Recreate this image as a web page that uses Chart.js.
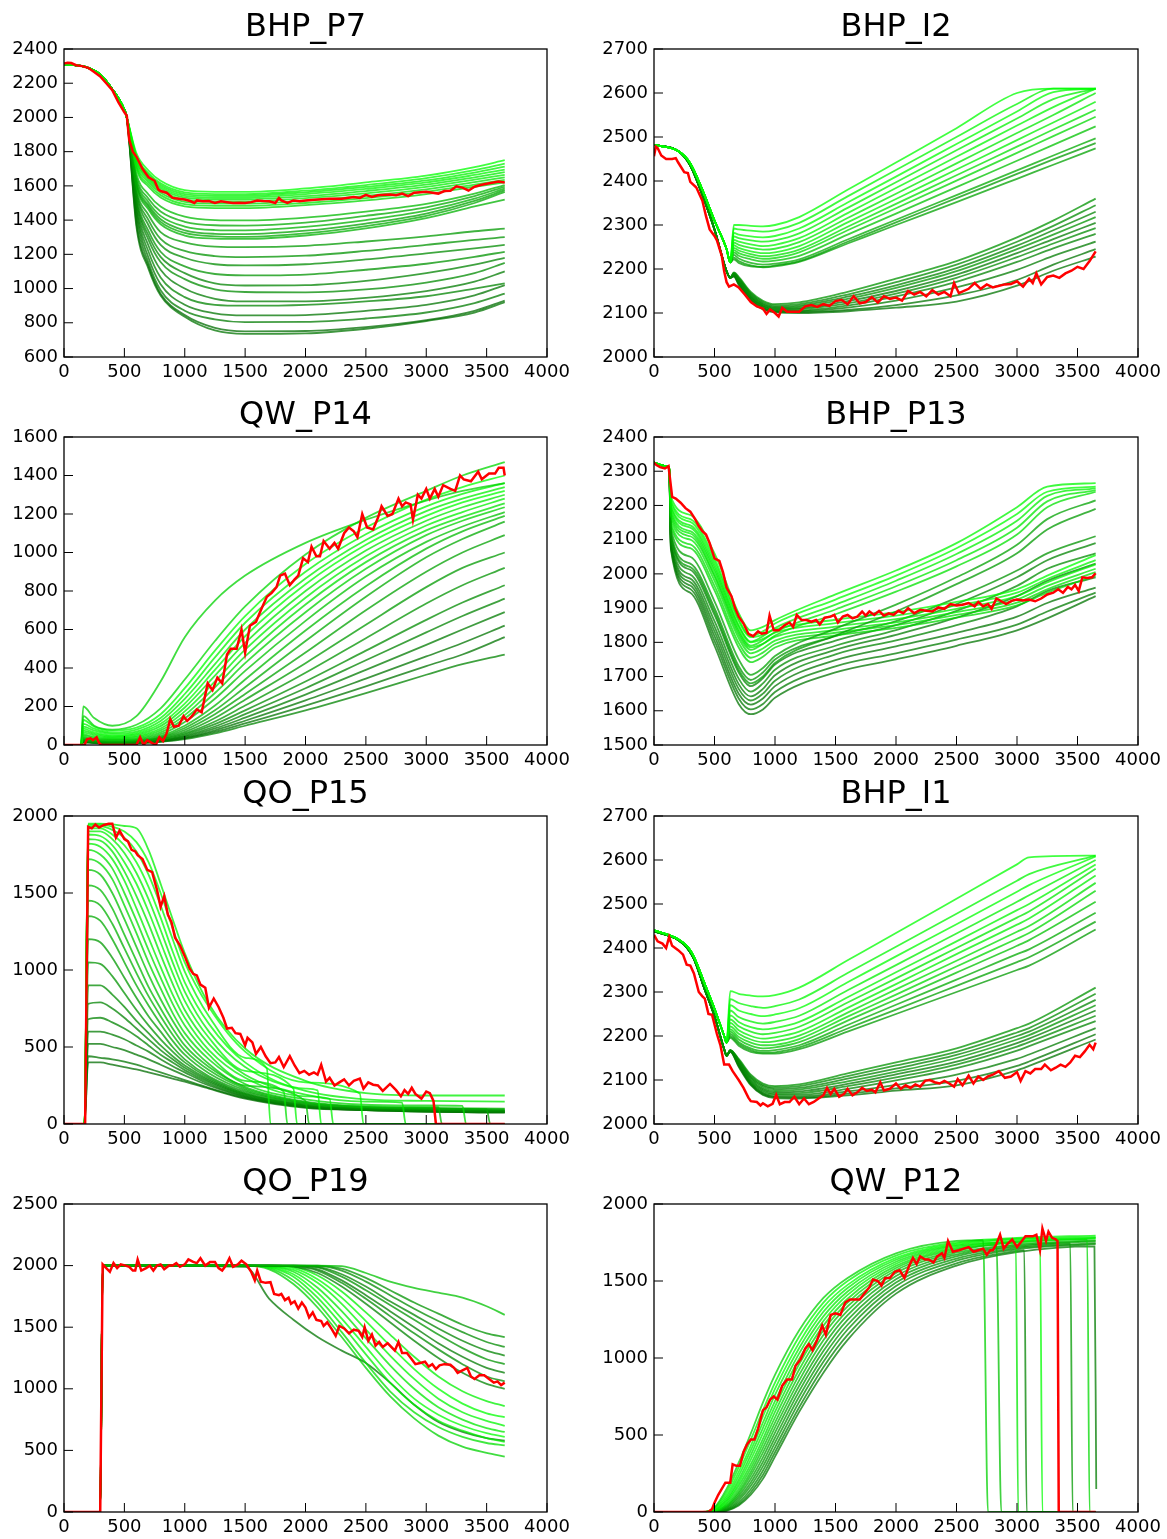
<!DOCTYPE html>
<html>
<head>
<meta charset="utf-8">
<title>Ensemble runs vs observed</title>
<script src="https://cdn.jsdelivr.net/npm/chart.js@4.4.1/dist/chart.umd.min.js"></script>
<style>
  html, body { margin: 0; padding: 0; background: #fff; }
  body { position: relative; width: 1167px; height: 1539px; overflow: hidden; }
  canvas { position: absolute; }
</style>
</head>
<body>
<script>
// ---------- BHP_P7 ----------
const p7Days = [0,100,200,300,400,500,520,600,700,800,1000,1250,1500,2000,2500,3000,3400,3650];
const p7Runs = [
  [2310,2305,2290,2250,2165,2045,2000,1790,1690,1630,1575,1565,1565,1585,1620,1660,1710,1750],
  [2310,2305,2290,2250,2165,2045,2000,1775,1675,1615,1562,1552,1552,1572,1605,1645,1692,1730],
  [2310,2305,2290,2250,2165,2045,2000,1765,1665,1605,1552,1542,1542,1562,1594,1632,1678,1712],
  [2310,2305,2290,2250,2165,2045,2000,1755,1655,1595,1542,1532,1532,1552,1582,1620,1664,1695],
  [2310,2305,2290,2250,2165,2045,2000,1745,1645,1585,1532,1522,1522,1540,1570,1607,1650,1680],
  [2310,2305,2290,2250,2165,2045,2000,1735,1635,1573,1520,1510,1510,1528,1556,1594,1636,1665],
  [2310,2305,2290,2250,2165,2045,2000,1722,1622,1560,1507,1497,1497,1514,1542,1580,1622,1650],
  [2310,2305,2290,2250,2165,2045,2000,1710,1608,1546,1493,1483,1483,1500,1528,1566,1608,1635],
  [2310,2305,2290,2250,2165,2045,2000,1698,1595,1532,1480,1470,1470,1487,1515,1552,1595,1620],
  [2310,2305,2290,2250,2165,2045,2000,1670,1550,1480,1420,1400,1398,1415,1450,1495,1555,1605],
  [2310,2305,2290,2250,2165,2045,2000,1650,1525,1450,1390,1370,1368,1385,1425,1475,1540,1595],
  [2310,2305,2290,2250,2165,2045,2000,1635,1505,1425,1362,1342,1340,1360,1400,1455,1525,1585],
  [2310,2305,2290,2250,2165,2045,2000,1620,1488,1405,1340,1320,1318,1338,1380,1438,1512,1575],
  [2310,2305,2290,2250,2165,2045,2000,1610,1475,1390,1325,1305,1302,1322,1365,1425,1500,1565],
  [2310,2305,2290,2250,2165,2045,2000,1600,1462,1376,1310,1292,1290,1310,1352,1412,1480,1520],
  [2310,2305,2290,2250,2165,2045,2000,1580,1430,1330,1270,1245,1242,1250,1275,1305,1335,1350],
  [2310,2305,2290,2250,2165,2045,2000,1565,1400,1290,1220,1190,1184,1192,1220,1255,1285,1300],
  [2310,2305,2290,2250,2165,2045,2000,1550,1370,1255,1180,1142,1135,1142,1170,1205,1235,1255],
  [2310,2305,2290,2250,2165,2045,2000,1530,1335,1215,1130,1085,1077,1082,1110,1145,1185,1215],
  [2310,2305,2290,2250,2165,2045,2000,1515,1310,1185,1090,1030,1018,1020,1045,1090,1140,1180],
  [2310,2305,2290,2250,2165,2045,2000,1500,1285,1155,1055,995,980,978,995,1035,1090,1150],
  [2310,2305,2290,2250,2165,2045,2000,1480,1250,1110,1000,940,925,925,945,985,1040,1100],
  [2310,2305,2290,2250,2165,2045,2000,1460,1215,1065,950,905,900,905,925,955,1000,1030],
  [2310,2305,2290,2250,2165,2045,2000,1440,1180,1025,905,855,843,845,870,905,960,1020],
  [2310,2305,2290,2250,2165,2045,2000,1410,1150,990,870,820,804,805,825,860,915,970],
  [2310,2305,2290,2250,2165,2045,2000,1380,1130,970,845,770,750,752,775,815,870,930],
  [2310,2305,2290,2250,2165,2045,2000,1360,1115,960,835,755,735,738,765,810,860,920]
];
const p7Tones = [1,0.95,0.9,0.95,0.85,0.9,0.8,0.85,0.75,0.55,0.45,0.5,0.4,0.45,0.5,0.35,0.3,0.25,0.3,0.2,0.25,0.15,0.2,0.1,0.15,0.05,0.1];
const p7Obs = [[0,2315],[30,2320],[60,2318],[100,2305],[150,2300],[200,2290],[250,2265],[300,2240],[350,2200],[400,2160],[450,2090],[500,2030],[520,2010],[540,1870],[570,1800],[600,1770],[650,1700],[700,1650],[750,1630],[780,1580],[800,1570],[850,1560],[900,1530],[950,1525],[1000,1520],[1050,1510],[1080,1500],[1100,1515],[1150,1510],[1200,1512],[1250,1500],[1300,1510],[1350,1505],[1400,1500],[1450,1502],[1500,1500],[1550,1505],[1600,1515],[1650,1512],[1700,1510],[1750,1500],[1780,1530],[1800,1515],[1850,1500],[1900,1515],[1950,1510],[2000,1515],[2100,1520],[2200,1525],[2300,1525],[2400,1535],[2450,1530],[2500,1548],[2550,1535],[2600,1545],[2700,1550],[2750,1545],[2800,1555],[2850,1540],[2900,1560],[3000,1565],[3050,1560],[3100,1555],[3150,1570],[3200,1572],[3250,1598],[3300,1590],[3350,1572],[3400,1595],[3450,1605],[3500,1612],[3600,1625],[3650,1620]];

// ---------- BHP_I2 ----------
const i2Days = [0,200,300,400,500,600,630,660,700,800,900,1000,1200,1600,2000,2500,3000,3300,3650];
const i2Runs = [
  [2482,2468,2440,2380,2310,2245,2215,2300,2300,2298,2297,2300,2318,2380,2442,2520,2600,2610,2610],
  [2482,2468,2440,2380,2310,2245,2215,2292,2290,2287,2285,2288,2305,2365,2425,2500,2575,2610,2610],
  [2482,2468,2440,2380,2310,2245,2215,2282,2278,2274,2272,2275,2292,2351,2410,2484,2558,2602,2610],
  [2482,2468,2440,2380,2310,2245,2215,2274,2270,2265,2262,2265,2281,2339,2397,2470,2542,2586,2610],
  [2482,2468,2440,2380,2310,2245,2215,2266,2262,2256,2252,2255,2270,2327,2384,2455,2526,2568,2610],
  [2482,2468,2440,2380,2310,2245,2215,2260,2255,2248,2244,2246,2261,2316,2371,2440,2509,2550,2600],
  [2482,2468,2440,2380,2310,2245,2215,2254,2248,2240,2236,2238,2252,2306,2359,2426,2493,2533,2580],
  [2482,2468,2440,2380,2310,2245,2215,2248,2242,2234,2229,2231,2244,2296,2348,2413,2478,2517,2562],
  [2482,2468,2440,2380,2310,2245,2215,2243,2236,2228,2223,2225,2238,2288,2338,2401,2464,2502,2546],
  [2482,2468,2440,2380,2310,2245,2215,2238,2230,2222,2217,2219,2230,2278,2326,2386,2446,2482,2524],
  [2482,2468,2440,2380,2310,2245,2215,2232,2224,2214,2210,2212,2222,2267,2312,2368,2424,2458,2497],
  [2482,2468,2440,2380,2310,2245,2215,2226,2218,2208,2204,2206,2216,2258,2300,2352,2405,2437,2474],
  [2482,2468,2440,2380,2310,2245,2215,2222,2214,2206,2205,2208,2218,2262,2306,2361,2416,2449,2486],
  [2482,2468,2435,2368,2290,2195,2180,2192,2182,2148,2128,2120,2124,2148,2178,2218,2272,2310,2360],
  [2482,2468,2435,2368,2290,2195,2180,2191,2180,2145,2125,2117,2120,2142,2170,2210,2262,2298,2345],
  [2482,2468,2435,2368,2290,2195,2180,2190,2178,2143,2122,2114,2117,2137,2163,2202,2253,2288,2330],
  [2482,2468,2435,2368,2290,2195,2180,2189,2176,2140,2120,2112,2114,2132,2157,2195,2245,2278,2318],
  [2482,2468,2435,2368,2290,2195,2180,2188,2174,2138,2118,2110,2111,2127,2150,2187,2236,2268,2305],
  [2482,2468,2435,2368,2290,2195,2180,2187,2172,2136,2116,2108,2109,2122,2144,2180,2227,2258,2293],
  [2482,2468,2435,2368,2290,2195,2180,2186,2170,2134,2114,2106,2106,2117,2138,2171,2216,2247,2280],
  [2482,2468,2435,2368,2290,2195,2180,2185,2168,2132,2112,2104,2104,2112,2128,2158,2198,2230,2262],
  [2482,2468,2435,2368,2290,2195,2180,2184,2166,2130,2110,2103,2102,2107,2118,2140,2175,2210,2245],
  [2482,2468,2435,2368,2290,2195,2180,2183,2164,2128,2108,2102,2100,2104,2112,2126,2162,2196,2228]
];
const i2Tones = [1,0.95,1,0.9,0.95,0.85,0.9,0.8,0.75,0.6,0.45,0.4,0.35,0.3,0.25,0.2,0.3,0.15,0.25,0.2,0.15,0.1,0.1];
const i2Obs = [[0,2456],[15,2478],[30,2475],[60,2458],[100,2450],[150,2450],[180,2452],[200,2442],[250,2420],[280,2418],[300,2398],[350,2385],[400,2355],[430,2320],[460,2290],[500,2275],[520,2265],[560,2230],[580,2195],[600,2170],[620,2160],[660,2165],[700,2158],[750,2142],[800,2125],[850,2115],[900,2110],[930,2098],[960,2108],[1000,2100],[1030,2092],[1060,2112],[1100,2103],[1200,2103],[1250,2115],[1300,2118],[1350,2114],[1400,2120],[1450,2116],[1500,2127],[1550,2130],[1600,2120],[1650,2138],[1700,2122],[1750,2125],[1800,2136],[1850,2124],[1900,2138],[1950,2132],[2000,2135],[2050,2128],[2100,2150],[2150,2142],[2200,2148],[2250,2138],[2300,2152],[2350,2142],[2400,2148],[2450,2138],[2480,2168],[2520,2145],[2600,2155],[2650,2168],[2700,2155],[2750,2165],[2800,2158],[2900,2165],[2950,2166],[3000,2172],[3050,2160],[3100,2178],[3130,2168],[3160,2190],[3200,2165],[3250,2182],[3300,2185],[3350,2180],[3400,2190],[3450,2196],[3500,2205],[3550,2200],[3600,2218],[3650,2240]];

// ---------- QW_P14 ----------
const p14Days = [0,140,160,250,400,600,800,1000,1250,1500,2000,2500,3000,3300,3650];
const p14Runs = [
  [0,0,200,140,100,150,330,560,750,880,1050,1170,1270,1320,1360],
  [0,0,150,100,80,105,190,340,540,720,990,1180,1320,1400,1470],
  [0,0,130,95,75,90,160,295,490,670,940,1130,1275,1340,1400],
  [0,0,110,85,65,80,140,265,455,635,900,1095,1240,1305,1360],
  [0,0,95,75,58,70,125,240,420,600,865,1065,1215,1280,1340],
  [0,0,85,65,50,62,110,215,390,565,835,1040,1190,1260,1320],
  [0,0,75,58,45,55,98,195,360,530,800,1010,1165,1235,1300],
  [0,0,65,50,40,48,86,175,330,495,765,980,1140,1210,1280],
  [0,0,55,42,35,42,76,155,300,460,730,950,1115,1185,1255],
  [0,0,48,36,30,36,66,138,270,425,690,915,1090,1165,1235],
  [0,0,40,30,26,30,56,120,240,385,645,875,1055,1135,1210],
  [0,0,35,26,22,26,48,100,205,340,595,825,1020,1110,1190],
  [0,0,30,22,18,22,42,88,180,300,540,770,975,1070,1160],
  [0,0,28,20,16,20,38,78,160,265,480,700,900,1000,1090],
  [0,0,26,18,14,18,34,68,140,235,425,625,820,920,1000],
  [0,0,24,16,12,16,30,60,122,205,375,555,735,830,920],
  [0,0,22,15,11,14,27,54,108,180,330,490,650,740,830],
  [0,0,20,14,10,13,24,48,96,160,295,440,585,670,760],
  [0,0,18,13,9,12,22,43,86,142,262,390,520,600,690],
  [0,0,16,12,8,11,20,38,76,126,232,345,460,530,620],
  [0,0,15,11,8,10,18,34,68,112,205,305,410,470,560],
  [0,0,14,10,7,9,16,30,60,100,180,270,365,420,470]
];
const p14Tones = [0.7,0.75,1,0.95,0.9,1,0.85,0.9,0.8,0.7,0.6,0.55,0.45,0.4,0.35,0.3,0.25,0.2,0.15,0.1,0.1,0.2];
const p14Obs = [[0,0],[170,0],[190,30],[220,35],[240,25],[270,40],[290,10],[310,0],[600,0],[630,40],[660,0],[690,25],[730,10],[760,0],[790,40],[820,20],[850,60],[880,135],[910,95],[950,100],[990,150],[1020,125],[1060,150],[1100,185],[1140,170],[1190,320],[1230,285],[1270,350],[1310,320],[1350,470],[1380,500],[1430,500],[1470,600],[1500,480],[1540,620],[1590,640],[1630,700],[1680,770],[1720,790],[1760,820],[1790,880],[1830,890],[1870,830],[1910,860],[1940,880],[1980,970],[2020,950],[2050,1030],[2090,980],[2120,980],[2150,1060],[2200,1020],[2240,1050],[2270,1020],[2320,1100],[2360,1130],[2400,1110],[2430,1080],[2470,1200],[2510,1130],[2560,1120],[2600,1180],[2630,1240],[2680,1190],[2720,1200],[2770,1280],[2800,1240],[2830,1260],[2870,1250],[2890,1170],[2930,1300],[2960,1280],[3000,1330],[3030,1280],[3070,1330],[3100,1290],[3140,1350],[3200,1330],[3240,1320],[3280,1400],[3310,1380],[3370,1370],[3430,1420],[3460,1380],[3520,1410],[3570,1410],[3600,1440],[3640,1440],[3650,1400]];

// ---------- BHP_P13 ----------
const p13Days = [0,100,125,140,300,500,700,800,900,1000,1500,2000,2500,3000,3250,3650];
const p13Runs = [
  [2325,2315,2312,2225,2172,2060,1885,1835,1845,1865,1940,2010,2090,2195,2255,2265],
  [2325,2315,2312,2215,2160,2045,1868,1818,1832,1855,1925,1995,2075,2175,2240,2255],
  [2325,2315,2312,2200,2142,2025,1850,1802,1818,1842,1910,1980,2058,2155,2228,2250],
  [2325,2315,2312,2185,2125,2008,1836,1790,1806,1830,1896,1964,2040,2135,2212,2245],
  [2325,2315,2312,2170,2110,1992,1822,1778,1795,1820,1882,1948,2022,2115,2195,2240],
  [2325,2315,2312,2130,2050,1920,1750,1705,1725,1760,1840,1910,1990,2085,2160,2215],
  [2325,2315,2312,2110,2020,1890,1720,1680,1700,1740,1820,1890,1970,2060,2130,2190],
  [2325,2315,2312,2210,2152,2035,1862,1815,1822,1838,1866,1888,1918,1955,1995,2055],
  [2325,2315,2312,2195,2135,2016,1846,1800,1810,1828,1856,1878,1908,1945,1985,2040],
  [2325,2315,2312,2178,2118,1998,1830,1785,1796,1816,1846,1868,1898,1935,1975,2028],
  [2325,2315,2312,2160,2100,1980,1812,1768,1782,1805,1836,1858,1888,1925,1965,2015],
  [2325,2315,2312,2148,2086,1965,1798,1755,1770,1795,1828,1850,1880,1916,1955,2005],
  [2325,2315,2312,2140,2075,1952,1785,1742,1758,1785,1820,1842,1872,1908,1945,1995],
  [2325,2315,2312,2120,2030,1900,1730,1690,1712,1750,1818,1862,1930,2010,2060,2110],
  [2325,2315,2312,2110,2012,1880,1712,1672,1695,1735,1805,1850,1912,1990,2040,2090],
  [2325,2315,2312,2100,1998,1862,1694,1656,1680,1720,1790,1836,1892,1965,2015,2060],
  [2325,2315,2312,2092,1986,1846,1678,1642,1664,1704,1778,1822,1872,1935,1980,2030],
  [2325,2315,2312,2086,1976,1832,1664,1630,1650,1688,1765,1806,1850,1905,1950,1990],
  [2325,2315,2312,2080,1966,1818,1650,1618,1636,1672,1748,1788,1828,1875,1915,1960],
  [2325,2315,2312,2075,1956,1804,1636,1604,1620,1655,1730,1768,1808,1852,1890,1945],
  [2325,2315,2312,2070,1945,1790,1620,1590,1604,1638,1712,1750,1790,1835,1870,1935]
];
const p13Tones = [0.95,1,0.9,0.85,0.8,0.4,0.35,1,0.95,0.9,0.85,0.8,0.75,0.3,0.2,0.25,0.15,0.2,0.1,0.15,0.1];
const p13Obs = [[0,2325],[20,2318],[50,2312],[90,2308],[120,2315],[150,2225],[180,2220],[220,2208],[260,2192],[300,2182],[340,2160],[370,2140],[400,2125],[430,2115],[460,2090],[500,2045],[540,2038],[570,2005],[600,1960],[640,1935],[670,1900],[700,1875],[740,1855],[780,1825],[820,1818],[860,1832],[890,1825],[930,1828],[955,1878],[990,1835],[1030,1835],[1080,1850],[1120,1858],[1150,1845],[1180,1880],[1220,1865],[1260,1865],[1300,1860],[1340,1865],[1370,1852],[1410,1872],[1460,1875],[1490,1880],[1520,1858],[1560,1875],[1600,1880],[1640,1870],[1680,1875],[1720,1890],[1750,1878],[1780,1890],[1820,1880],[1860,1892],[1900,1878],[1940,1885],[1980,1880],[2020,1892],[2060,1885],[2100,1900],[2150,1885],[2200,1895],[2250,1892],[2300,1890],[2350,1902],[2400,1898],[2450,1912],[2500,1908],[2550,1910],[2600,1915],[2650,1905],[2680,1918],[2720,1905],[2760,1912],[2790,1898],[2830,1928],[2870,1920],[2910,1912],[2960,1922],[3000,1925],[3050,1922],[3100,1925],[3150,1920],[3200,1928],[3250,1940],[3300,1945],[3340,1955],[3380,1945],[3420,1962],[3450,1955],[3480,1968],[3510,1950],[3540,1990],[3580,1988],[3620,1990],[3650,2002]];

// ---------- QO_P15 ----------
const p15Days = [0,170,200,300,400,500,600,700,800,900,1000,1200,1500,2000,2500,3000,3650];
const p15Runs = [
  [0,0,1950,1950,1945,1935,1920,1780,1560,1330,1110,780,490,280,200,185,185],
  [0,0,1940,1945,1930,1900,1830,1700,1500,1270,1050,760,470,270,190,175,175],
  [0,0,1930,1935,1910,1860,1770,1620,1420,1200,990,700,430,250,180,165,160],
  [0,0,1920,1920,1880,1810,1700,1540,1340,1120,920,650,400,230,170,155,150],
  [0,0,1900,1900,1850,1760,1630,1460,1260,1050,860,600,370,215,160,150,145],
  [0,0,1880,1870,1810,1700,1560,1380,1180,980,800,560,345,200,150,140,135],
  [0,0,1850,1840,1770,1640,1480,1300,1100,910,740,520,320,190,145,135,130],
  [0,0,1820,1800,1720,1580,1400,1210,1020,840,690,480,300,180,140,130,125],
  [0,0,1780,1750,1660,1500,1320,1130,950,780,640,450,280,170,130,125,120],
  [0,0,1720,1690,1590,1420,1240,1050,880,720,590,420,260,160,125,120,115],
  [0,0,1650,1620,1500,1330,1150,970,810,670,550,390,250,150,120,115,110],
  [0,0,1550,1520,1400,1230,1060,890,750,620,510,370,240,145,115,110,105],
  [0,0,1450,1420,1300,1140,980,830,700,580,480,350,230,140,110,105,100],
  [0,0,1350,1320,1200,1050,900,770,650,540,450,330,220,135,110,100,95],
  [0,0,1200,1180,1080,950,820,700,600,500,420,310,210,130,105,100,95],
  [0,0,1050,1040,960,850,740,640,550,470,400,300,200,125,100,95,90],
  [0,0,900,900,840,760,670,590,510,440,380,290,195,120,100,90,85],
  [0,0,780,790,750,690,620,550,480,420,365,280,190,120,95,90,85],
  [0,0,680,690,660,620,570,510,450,400,350,270,185,115,95,85,80],
  [0,0,600,600,580,550,510,470,420,375,335,260,180,115,95,85,80],
  [0,0,520,520,500,480,450,420,385,350,315,250,175,110,90,80,75],
  [0,0,440,430,420,405,385,360,335,310,285,235,170,110,90,80,75],
  [0,0,400,400,385,370,355,335,315,295,275,230,165,105,90,80,75]
];
const p15Tones = [0.9,1,0.95,1,0.9,0.95,0.85,0.9,0.8,0.75,0.6,0.55,0.5,0.45,0.35,0.3,0.25,0.2,0.2,0.15,0.1,0.1,0.05];
// run index, last day, last rate, day at zero, rate after
const p15Stops = [[2,1680,360,1710,0],[8,1820,210,1850,0],[5,1900,230,1930,0],[10,2000,150,2030,0],[3,2100,218,2130,0],[7,2200,164,2230,0],[1,2450,198,2480,0],[6,2800,139,2830,0],[11,3100,110,3130,0],[9,3300,118,3330,0],[13,3500,97,3530,0]];
const p15Obs = [[0,0],[175,0],[200,1930],[230,1920],[260,1945],[290,1925],[330,1942],[370,1950],[400,1950],[430,1860],[460,1905],[500,1850],[530,1835],[560,1780],[590,1770],[610,1745],[650,1720],[690,1650],[730,1635],[770,1520],[800,1410],[830,1480],[860,1360],[890,1310],[920,1210],[960,1160],[1000,1090],[1040,1010],[1070,975],[1100,965],[1130,905],[1170,885],[1200,755],[1240,815],[1280,760],[1320,690],[1350,620],[1390,625],[1420,590],[1460,585],[1500,510],[1520,560],[1560,530],[1590,455],[1630,500],[1670,440],[1710,395],[1750,400],[1780,435],[1820,370],[1870,440],[1910,380],[1950,330],[1990,345],[2030,320],[2070,335],[2100,320],[2130,385],[2170,275],[2200,300],[2240,250],[2280,270],[2320,290],[2360,250],[2400,280],[2450,295],[2480,230],[2520,270],[2560,255],[2600,250],[2640,215],[2700,260],[2750,220],[2790,180],[2820,220],[2850,195],[2880,235],[2910,195],[2960,165],[3000,210],[3030,200],[3060,150],[3080,0],[3650,0]];

// ---------- BHP_I1 ----------
const i1Days = [0,200,280,330,420,500,580,600,630,700,800,900,1000,1200,1600,2000,2500,3000,3100,3650];
const i1Runs = [
  [2440,2420,2402,2380,2318,2262,2200,2185,2302,2296,2292,2290,2293,2310,2372,2434,2512,2590,2606,2610],
  [2440,2420,2402,2380,2318,2262,2200,2185,2284,2275,2268,2264,2268,2283,2343,2403,2478,2553,2568,2610],
  [2440,2420,2402,2380,2318,2262,2200,2185,2270,2258,2250,2245,2249,2263,2322,2381,2454,2528,2543,2608],
  [2440,2420,2402,2380,2318,2262,2200,2185,2258,2243,2233,2228,2232,2246,2304,2361,2433,2505,2520,2600],
  [2440,2420,2402,2380,2318,2262,2200,2185,2247,2232,2220,2215,2218,2232,2288,2345,2415,2486,2500,2590],
  [2440,2420,2402,2380,2318,2262,2200,2185,2238,2222,2210,2204,2207,2221,2276,2331,2400,2469,2483,2580],
  [2440,2420,2402,2380,2318,2262,2200,2185,2230,2213,2200,2194,2197,2210,2264,2318,2386,2453,2467,2565],
  [2440,2420,2402,2380,2318,2262,2200,2185,2222,2205,2192,2186,2188,2201,2253,2306,2371,2437,2450,2548],
  [2440,2420,2402,2380,2318,2262,2200,2185,2215,2198,2185,2179,2180,2193,2244,2294,2358,2421,2434,2530],
  [2440,2420,2402,2380,2318,2262,2200,2185,2210,2192,2178,2172,2174,2186,2235,2283,2344,2405,2418,2505],
  [2440,2420,2402,2380,2318,2262,2200,2185,2205,2186,2172,2166,2168,2179,2225,2271,2328,2386,2397,2480],
  [2440,2420,2402,2380,2318,2262,2200,2185,2200,2182,2168,2162,2163,2174,2217,2260,2314,2368,2379,2460],
  [2440,2420,2402,2380,2318,2262,2200,2185,2196,2178,2164,2160,2160,2170,2210,2250,2300,2350,2360,2442],
  [2438,2418,2398,2375,2305,2245,2170,2155,2168,2148,2112,2092,2086,2090,2115,2140,2172,2218,2228,2310],
  [2438,2418,2398,2375,2305,2245,2170,2155,2168,2146,2109,2089,2083,2086,2109,2133,2164,2208,2218,2296],
  [2438,2418,2398,2375,2305,2245,2170,2155,2168,2144,2106,2086,2079,2082,2103,2126,2157,2200,2210,2282],
  [2438,2418,2398,2375,2305,2245,2170,2155,2167,2142,2103,2082,2075,2078,2097,2119,2150,2192,2202,2270],
  [2438,2418,2398,2375,2305,2245,2170,2155,2167,2140,2100,2079,2072,2074,2091,2113,2142,2184,2194,2258],
  [2438,2418,2398,2375,2305,2245,2170,2155,2166,2138,2097,2076,2069,2070,2086,2106,2135,2176,2186,2246],
  [2438,2418,2398,2375,2305,2245,2170,2155,2166,2136,2094,2073,2066,2066,2080,2099,2127,2167,2177,2234],
  [2438,2418,2398,2375,2305,2245,2170,2155,2165,2134,2092,2070,2063,2063,2074,2089,2112,2148,2158,2218],
  [2438,2418,2398,2375,2305,2245,2170,2155,2165,2132,2090,2068,2061,2060,2069,2081,2098,2132,2142,2204],
  [2438,2418,2398,2375,2305,2245,2170,2155,2164,2130,2088,2066,2059,2058,2065,2076,2088,2122,2132,2192]
];
const i1Tones = [1,0.95,1,0.9,0.95,0.85,0.9,0.8,0.75,0.6,0.45,0.4,0.35,0.3,0.25,0.2,0.3,0.15,0.25,0.2,0.15,0.1,0.1];
const i1Obs = [[0,2430],[30,2415],[70,2410],[100,2400],[125,2425],[150,2405],[200,2395],[240,2385],[270,2362],[300,2360],[330,2342],[370,2300],[400,2290],[420,2285],[450,2250],[480,2248],[520,2205],[550,2178],[580,2135],[620,2135],[650,2120],[700,2100],[740,2082],[780,2060],[800,2052],[850,2050],[880,2042],[900,2047],[940,2040],[980,2046],[1010,2066],[1040,2045],[1080,2050],[1120,2050],[1160,2062],[1200,2045],[1240,2058],[1280,2045],[1320,2050],[1360,2058],[1400,2065],[1430,2082],[1460,2068],[1490,2080],[1530,2062],[1570,2068],[1600,2080],[1640,2065],[1680,2072],[1720,2082],[1760,2075],[1800,2078],[1830,2072],[1870,2095],[1900,2076],[1950,2080],[2000,2092],[2040,2080],[2080,2088],[2120,2082],[2160,2090],[2200,2085],[2240,2098],[2280,2100],[2320,2095],[2360,2092],[2400,2098],[2440,2092],[2480,2085],[2510,2102],[2550,2088],[2600,2110],[2640,2092],[2680,2108],[2720,2100],[2760,2108],[2800,2112],[2850,2120],[2900,2105],[2950,2108],[3000,2118],[3030,2098],[3070,2120],[3110,2115],[3150,2125],[3200,2125],[3230,2135],[3280,2122],[3320,2128],[3360,2135],[3400,2130],[3440,2140],[3480,2155],[3520,2152],[3560,2165],[3600,2180],[3630,2170],[3650,2185]];

// ---------- QO_P19 ----------
const p19Days = [0,300,320,1500,1700,1900,2100,2300,2500,2700,2900,3100,3300,3500,3650];
const p19Runs = [
  [0,0,2000,2000,2000,2000,2000,1995,1940,1870,1820,1780,1740,1670,1600],
  [0,0,2000,2000,2000,2000,2000,1975,1900,1800,1700,1610,1520,1450,1420],
  [0,0,2000,2000,2000,2000,1998,1960,1870,1760,1650,1550,1460,1380,1340],
  [0,0,2000,2000,2000,2000,1990,1930,1830,1710,1600,1490,1390,1310,1270],
  [0,0,2000,2000,2000,2000,1985,1910,1800,1680,1560,1440,1330,1240,1200],
  [0,0,2000,2000,2000,1998,1970,1880,1760,1630,1500,1370,1260,1170,1130],
  [0,0,2000,2000,2000,1995,1960,1860,1730,1590,1450,1320,1200,1100,1060],
  [0,0,2000,2000,2000,1992,1940,1830,1690,1540,1390,1250,1130,1040,1000],
  [0,0,2000,2000,2000,1990,1920,1790,1620,1440,1260,1100,980,900,860],
  [0,0,2000,2000,1998,1980,1890,1740,1550,1350,1160,1000,880,800,770],
  [0,0,2000,2000,1996,1965,1860,1690,1480,1270,1080,920,810,740,700],
  [0,0,2000,2000,1994,1950,1820,1630,1410,1190,1000,850,750,680,650],
  [0,0,2000,2000,1990,1930,1780,1570,1340,1110,920,790,700,640,610],
  [0,0,2000,2000,1985,1910,1740,1520,1280,1050,870,740,660,600,570],
  [0,0,2000,2000,1980,1880,1700,1460,1210,980,810,690,610,560,540],
  [0,0,2000,2000,1970,1850,1660,1420,1170,940,760,620,530,480,450],
  [0,0,2000,1990,1730,1560,1420,1310,1210,1050,870,730,650,600,580]
];
const p19Tones = [0.6,0.3,0.25,0.2,0.3,0.15,0.25,0.2,0.9,1,0.95,0.85,1,0.9,0.8,0.7,0.1];
const p19Obs = [[0,0],[300,0],[320,2010],[350,1980],[380,1950],[410,2020],[440,1980],[470,2010],[510,2000],[540,1990],[570,1960],[590,1960],[610,2050],[640,1960],[680,1980],[710,2000],[740,1960],[770,2000],[800,2010],[830,1970],[870,2000],[900,2000],[930,2020],[960,1990],[1000,2010],[1030,2050],[1070,2030],[1100,2020],[1130,2060],[1170,2000],[1210,2030],[1250,2030],[1280,1980],[1310,1960],[1340,2000],[1370,2060],[1400,1990],[1440,2010],[1470,2040],[1510,2010],[1550,1950],[1580,1880],[1600,1960],[1630,1870],[1670,1860],[1710,1865],[1740,1770],[1780,1760],[1800,1770],[1830,1720],[1860,1740],[1880,1690],[1910,1710],[1940,1650],[1970,1700],[2000,1660],[2030,1580],[2060,1620],[2090,1560],[2130,1550],[2150,1510],[2180,1540],[2220,1480],[2250,1430],[2280,1510],[2320,1490],[2360,1450],[2400,1480],[2440,1470],[2470,1420],[2490,1500],[2520,1390],[2550,1440],[2580,1350],[2610,1380],[2640,1340],[2680,1370],[2710,1340],[2740,1310],[2770,1380],[2800,1290],[2840,1290],[2880,1240],[2910,1200],[2950,1210],[2990,1220],[3020,1180],[3050,1200],[3080,1160],[3110,1190],[3150,1200],[3200,1195],[3230,1170],[3260,1130],[3300,1150],[3340,1170],[3370,1100],[3400,1080],[3440,1110],[3480,1110],[3520,1080],[3560,1050],[3590,1060],[3620,1030],[3650,1050]];

// ---------- QW_P12 ----------
const p12Days = [0,400,500,600,700,800,900,1000,1200,1400,1600,2000,2500,3000,3650];
const p12Runs = [
  [0,0,30,150,320,510,710,890,1180,1390,1520,1680,1760,1785,1800],
  [0,0,25,130,290,470,660,840,1140,1360,1500,1665,1750,1780,1795],
  [0,0,20,110,260,430,620,800,1100,1330,1475,1650,1742,1775,1790],
  [0,0,15,95,235,400,580,760,1065,1300,1455,1638,1735,1770,1785],
  [0,0,12,80,210,370,545,720,1030,1270,1432,1625,1728,1765,1782],
  [0,0,10,70,190,340,510,685,995,1240,1410,1612,1720,1760,1780],
  [0,0,8,60,170,310,475,650,960,1210,1385,1598,1712,1755,1776],
  [0,0,6,50,150,285,445,615,925,1180,1360,1584,1704,1750,1772],
  [0,0,5,42,132,260,415,580,890,1150,1335,1570,1695,1744,1768],
  [0,0,4,36,118,238,385,548,855,1115,1308,1552,1684,1738,1764],
  [0,0,3,30,104,215,355,515,820,1080,1278,1532,1672,1730,1758],
  [0,0,2,24,90,192,325,482,785,1045,1248,1512,1660,1722,1752],
  [0,0,1,18,76,170,296,450,750,1010,1216,1490,1646,1714,1746],
  [0,0,0,14,62,148,268,418,715,975,1185,1468,1632,1706,1740],
  [0,0,0,10,50,128,240,388,680,940,1150,1442,1615,1696,1732],
  [0,0,0,8,42,112,215,360,650,905,1118,1418,1600,1688,1726]
];
const p12Tones = [0.7,0.95,1,0.9,0.85,0.95,0.8,0.75,0.6,0.55,0.4,0.35,0.3,0.25,0.2,0.15];
const p12Stops = [[0,2720,1765,2760,0],[8,2830,1735,2870,0],[4,2990,1750,3010,0],[14,3060,1700,3080,0],[2,3190,1780,3210,0],[11,3440,1745,3460,0],[7,3580,1770,3600,0],[15,3640,1725,3655,150]];
const p12Obs = [[0,0],[450,0],[480,20],[500,60],[530,110],[560,150],[590,190],[630,190],[650,310],[680,300],[710,300],[740,390],[770,440],[800,470],[830,470],[860,540],[880,600],[900,660],[930,680],[960,730],[990,750],[1020,730],[1060,820],[1100,860],[1140,860],[1170,950],[1210,990],[1250,1060],[1280,1090],[1310,1050],[1350,1120],[1390,1210],[1420,1150],[1460,1280],[1500,1290],[1540,1280],[1580,1360],[1620,1380],[1660,1380],[1700,1380],[1740,1420],[1780,1460],[1810,1510],[1850,1500],[1880,1470],[1910,1520],[1950,1520],[1990,1560],[2030,1570],[2070,1520],[2110,1600],[2140,1650],[2170,1610],[2200,1660],[2240,1640],[2270,1640],[2310,1620],[2340,1660],[2380,1680],[2400,1650],[2430,1760],[2470,1690],[2520,1700],[2560,1710],[2600,1720],[2640,1690],[2680,1700],[2720,1710],[2750,1670],[2780,1700],[2800,1700],[2830,1740],[2860,1800],[2890,1710],[2920,1740],[2960,1770],[3000,1720],[3040,1760],[3070,1790],[3100,1790],[3130,1790],[3160,1800],[3190,1700],[3210,1840],[3240,1760],[3260,1820],[3290,1780],[3320,1770],[3335,1760],[3345,0],[3650,0]];

// ---------- layout of the 2x4 grid ----------
const panels = [
  { title: 'BHP_P7',  col: 0, top: 49,   min: 600,  max: 2400, step: 200, days: p7Days,  runs: p7Runs,  tones: p7Tones,  obs: p7Obs },
  { title: 'BHP_I2',  col: 1, top: 49,   min: 2000, max: 2700, step: 100, days: i2Days,  runs: i2Runs,  tones: i2Tones,  obs: i2Obs },
  { title: 'QW_P14',  col: 0, top: 437,  min: 0,    max: 1600, step: 200, days: p14Days, runs: p14Runs, tones: p14Tones, obs: p14Obs },
  { title: 'BHP_P13', col: 1, top: 437,  min: 1500, max: 2400, step: 100, days: p13Days, runs: p13Runs, tones: p13Tones, obs: p13Obs },
  { title: 'QO_P15',  col: 0, top: 816,  min: 0,    max: 2000, step: 500, days: p15Days, runs: p15Runs, tones: p15Tones, obs: p15Obs, stops: p15Stops },
  { title: 'BHP_I1',  col: 1, top: 816,  min: 2000, max: 2700, step: 100, days: i1Days,  runs: i1Runs,  tones: i1Tones,  obs: i1Obs },
  { title: 'QO_P19',  col: 0, top: 1204, min: 0,    max: 2500, step: 500, days: p19Days, runs: p19Runs, tones: p19Tones, obs: p19Obs },
  { title: 'QW_P12',  col: 1, top: 1204, min: 0,    max: 2000, step: 500, days: p12Days, runs: p12Runs, tones: p12Tones, obs: p12Obs, stops: p12Stops }
];

const FONT = "'DejaVu Sans', 'Liberation Sans', sans-serif";
const cols = [ { left: 0, width: 583, padR: 36 }, { left: 590, width: 577, padR: 29 } ];

// dark green -> lime, see-through like the matplotlib alpha
function greenOf(t) {
  const g = Math.round(100 + 155 * t);
  return 'rgba(0,' + g + ',0,0.75)';
}

function runSets(p) {
  return p.runs.map((row, i) => {
    const stop = p.stops ? p.stops.find(s => s[0] === i) : null;
    const pts = [];
    for (let k = 0; k < p.days.length; k++) {
      if (stop && p.days[k] >= stop[1]) break;
      pts.push({ x: p.days[k], y: row[k] });
    }
    if (stop) {
      pts.push({ x: stop[1], y: stop[2] });
      pts.push({ x: stop[3], y: stop[4] });
      if (stop[3] < 3650) pts.push({ x: 3650, y: stop[4] });
    }
    return {
      data: pts,
      borderColor: greenOf(p.tones[i]),
      borderWidth: 1.8,
      cubicInterpolationMode: 'monotone',
      pointRadius: 0
    };
  });
}

// box round the plot + inward ticks on left and bottom
const frame = {
  id: 'frame',
  afterDatasetsDraw(chart) {
    const { ctx, chartArea: a, scales } = chart;
    ctx.save();
    ctx.strokeStyle = '#000';
    ctx.lineWidth = 1;
    ctx.beginPath();
    scales.x.ticks.forEach(t => {
      const px = scales.x.getPixelForValue(t.value);
      ctx.moveTo(px, a.bottom);
      ctx.lineTo(px, a.bottom - 9);
    });
    scales.y.ticks.forEach(t => {
      const py = scales.y.getPixelForValue(t.value);
      ctx.moveTo(a.left, py);
      ctx.lineTo(a.left + 9, py);
    });
    ctx.stroke();
    ctx.lineWidth = 1.3;
    ctx.strokeRect(a.left, a.top, a.right - a.left, a.bottom - a.top);
    ctx.restore();
  }
};

function drawPanel(p) {
  const c = cols[p.col];
  const cv = document.createElement('canvas');
  cv.width = c.width;
  cv.height = 388;
  cv.style.width = c.width + 'px';
  cv.style.height = '388px';
  cv.style.left = c.left + 'px';
  cv.style.top = (p.top - 46) + 'px';
  document.body.appendChild(cv);

  const obsSet = {
    data: p.obs.map(o => ({ x: o[0], y: o[1] })),
    borderColor: '#ff0000',
    borderWidth: 2.5,
    tension: 0,
    pointRadius: 0
  };

  new Chart(cv, {
    type: 'line',
    data: { datasets: [obsSet].concat(runSets(p)) },
    options: {
      responsive: false,
      animation: false,
      events: [],
      layout: { padding: { top: 0, left: 0, bottom: 0, right: c.padR } },
      plugins: {
        legend: { display: false },
        tooltip: { enabled: false },
        title: {
          display: true,
          fullSize: false,
          text: p.title,
          color: '#000',
          font: { family: FONT, size: 32, weight: 'normal' },
          padding: { top: 5, bottom: 2.6 }
        }
      },
      scales: {
        x: {
          type: 'linear', min: 0, max: 4000,
          afterFit: s => { s.height = 34; },
          grid: { display: false, drawTicks: false },
          border: { display: false },
          ticks: { stepSize: 500, autoSkip: false, maxRotation: 0, color: '#000', font: { family: FONT, size: 18 }, padding: 5, callback: v => String(v) }
        },
        y: {
          type: 'linear', min: p.min, max: p.max,
          afterFit: s => { s.width = 64; },
          grid: { display: false, drawTicks: false },
          border: { display: false },
          ticks: { stepSize: p.step, autoSkip: false, color: '#000', font: { family: FONT, size: 18 }, padding: 6, callback: v => String(v) }
        }
      }
    },
    plugins: [frame]
  });
}

panels.forEach(drawPanel);
</script>
</body>
</html>
